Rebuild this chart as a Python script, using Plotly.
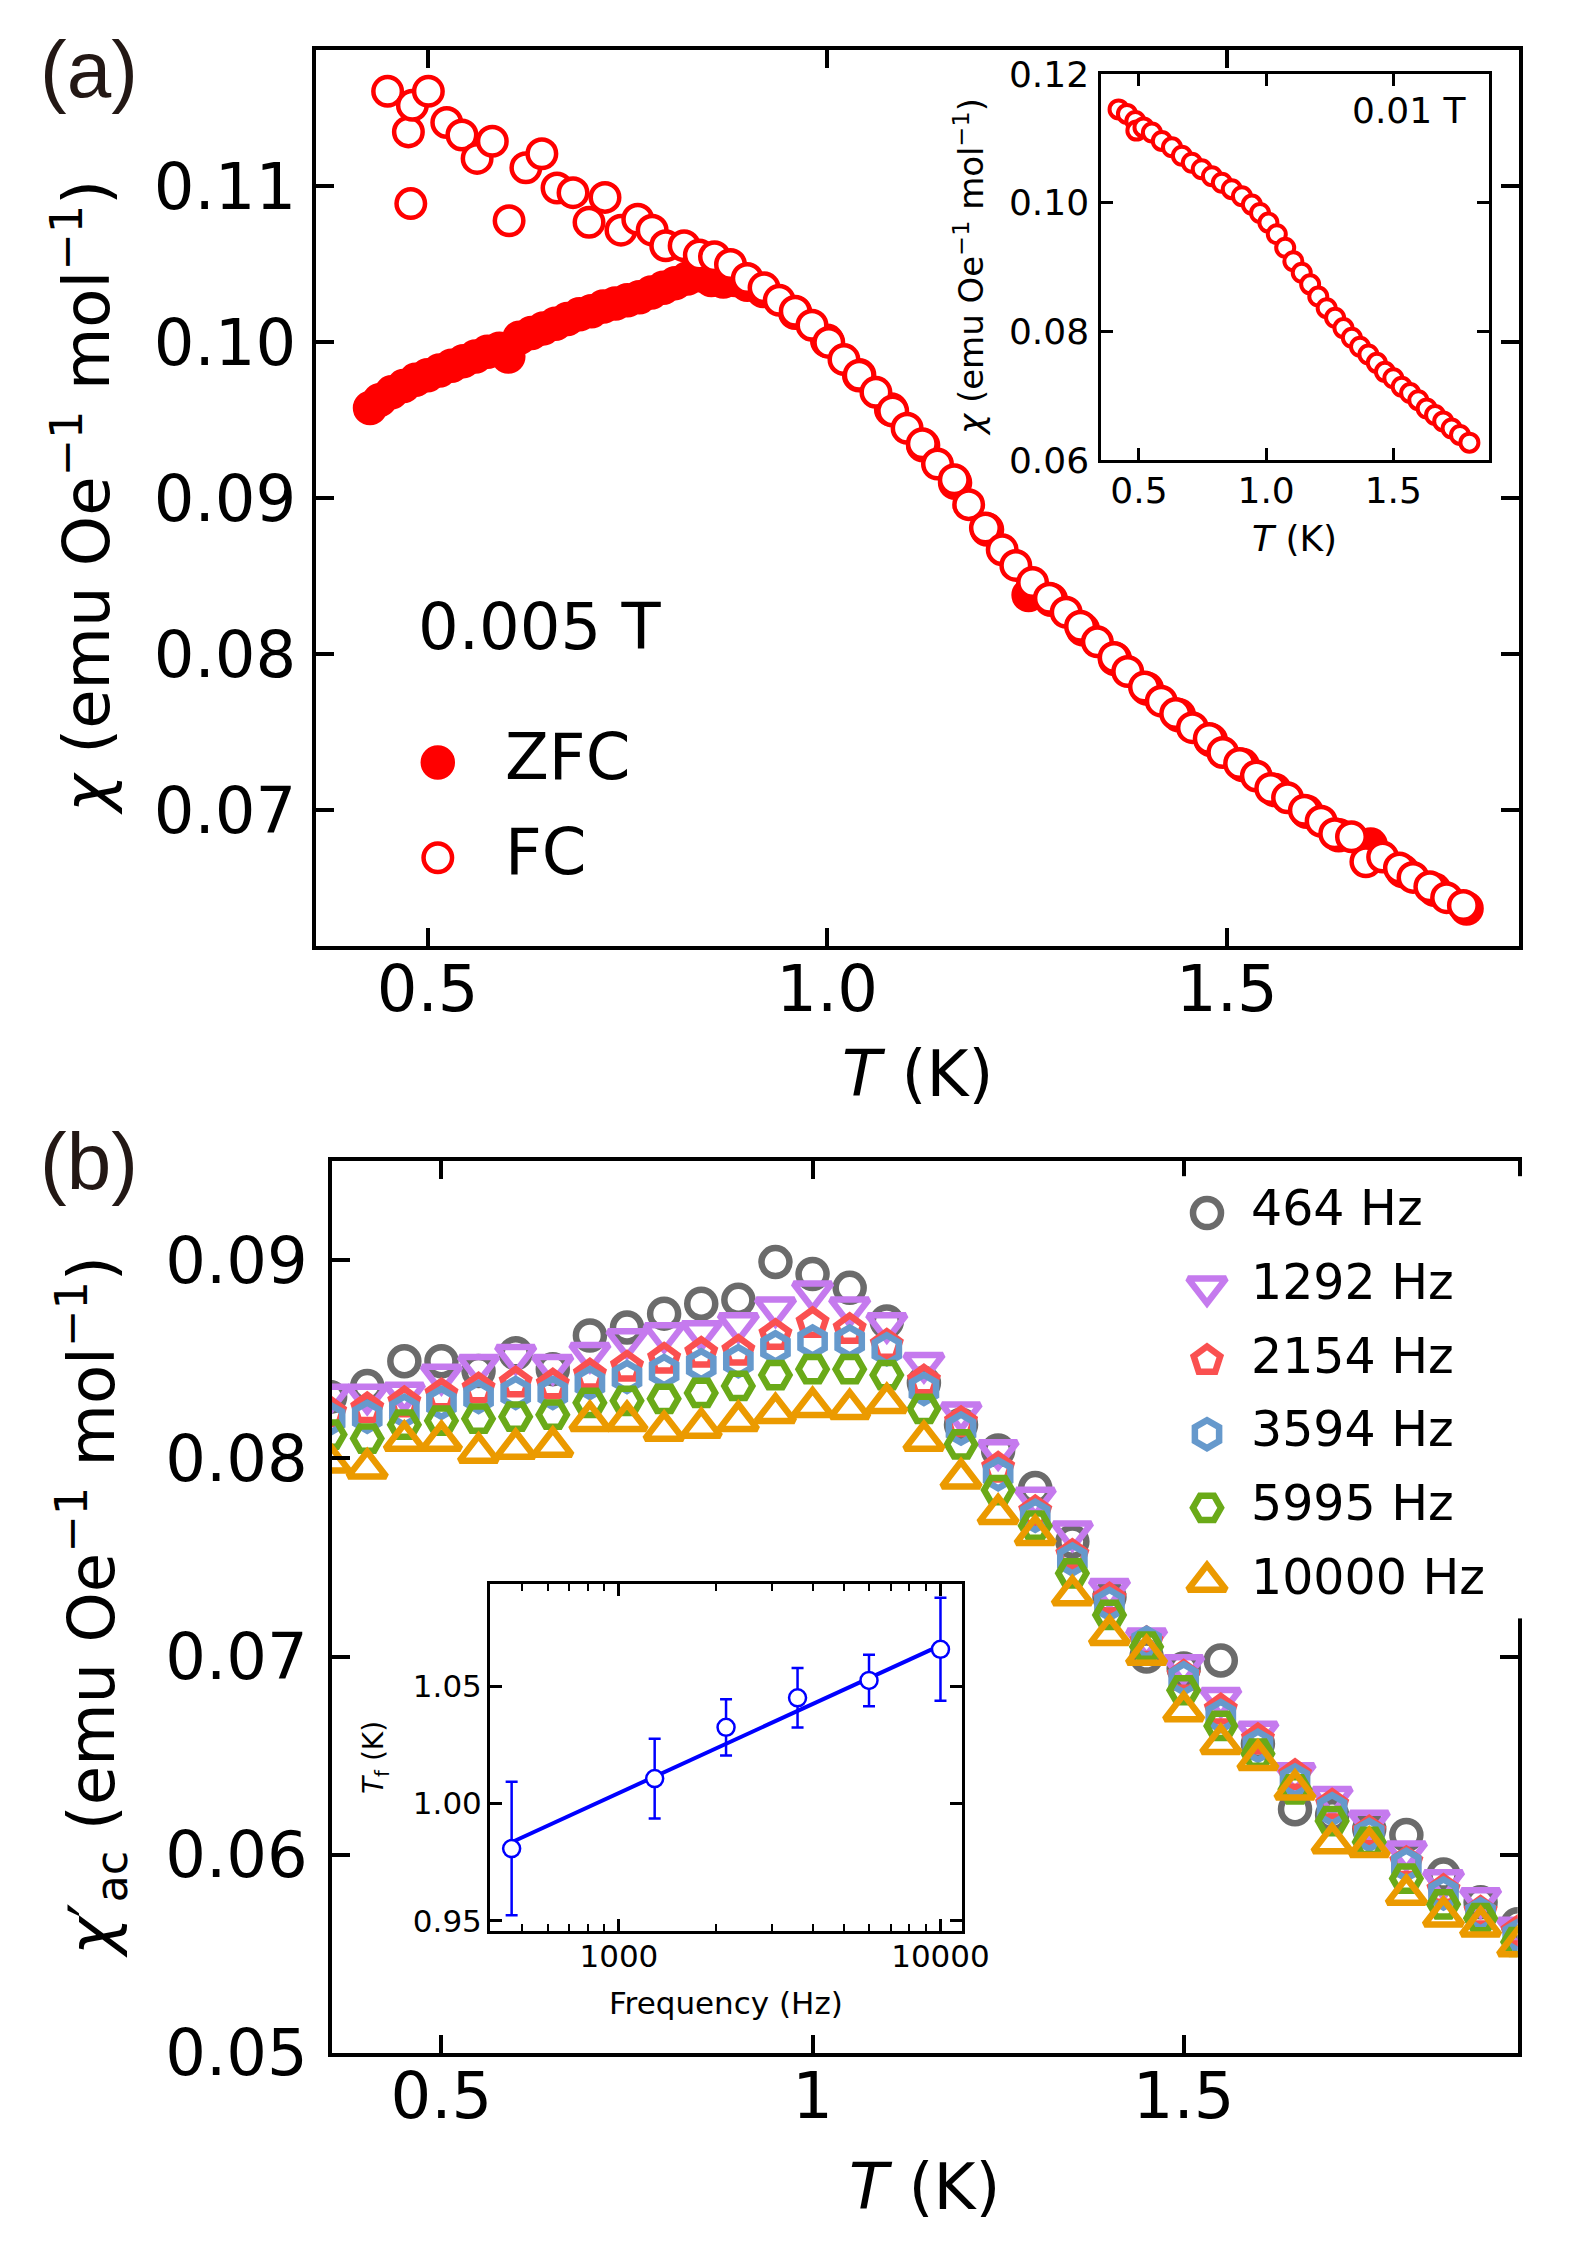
import plotly.graph_objects as go

W, H = 1577, 2253
FONT = "DejaVu Sans"
RED = "#ff0000"

# ---------------- panel (a): dc susceptibility at 0.005 T ----------------
t_fc = [0.450, 0.476, 0.479, 0.481, 0.501, 0.524, 0.543, 0.562, 0.581, 0.602,
        0.623, 0.643, 0.662, 0.682, 0.702, 0.722, 0.742, 0.763, 0.781, 0.798,
        0.821, 0.840, 0.859, 0.879, 0.900, 0.921, 0.940, 0.960, 0.981, 1.002,
        1.021, 1.040, 1.061, 1.082, 1.100, 1.119, 1.138, 1.159, 1.177, 1.198,
        1.219, 1.236, 1.257, 1.278, 1.299, 1.317, 1.338, 1.359, 1.376, 1.397,
        1.418, 1.436, 1.457, 1.478, 1.495, 1.516, 1.537, 1.555, 1.576, 1.597,
        1.618, 1.635, 1.656, 1.674, 1.695, 1.716, 1.733, 1.754, 1.775, 1.796]
chi_fc = [0.1161, 0.1135, 0.1089, 0.1152, 0.1161, 0.1141, 0.1133, 0.1118, 0.1129, 0.1078,
          0.1112, 0.1121, 0.1099, 0.1096, 0.1077, 0.1093, 0.1072, 0.1079, 0.1072, 0.1062,
          0.1062, 0.1056, 0.1055, 0.1050, 0.1041, 0.1035, 0.1027, 0.1020, 0.1011, 0.1000,
          0.0989, 0.0979, 0.0968, 0.0956, 0.0945, 0.0935, 0.0922, 0.0912, 0.0896, 0.0881,
          0.0867, 0.0857, 0.0846, 0.0836, 0.0827, 0.0818, 0.0808, 0.0798, 0.0789, 0.0779,
          0.0770, 0.0762, 0.0753, 0.0746, 0.0737, 0.0730, 0.0722, 0.0714, 0.0708, 0.0700,
          0.0693, 0.0685, 0.0683, 0.0667, 0.0670, 0.0663, 0.0657, 0.0651, 0.0644, 0.0639]

t_zfc = [0.428, 0.440, 0.455, 0.470, 0.485, 0.500, 0.515, 0.530, 0.545, 0.560,
         0.575, 0.590, 0.601, 0.615, 0.630, 0.645, 0.660, 0.675, 0.690, 0.705,
         0.720, 0.735, 0.750, 0.765, 0.780, 0.795, 0.810, 0.825, 0.840, 0.855,
         0.870, 0.885, 0.900, 0.920, 0.960, 1.000, 1.040, 1.080, 1.120, 1.160,
         1.200, 1.252, 1.280, 1.320, 1.360, 1.400, 1.440, 1.480, 1.520, 1.560,
         1.600, 1.640, 1.680, 1.720, 1.760, 1.800]
chi_zfc = [0.0958, 0.0963, 0.0968, 0.0972, 0.0976, 0.0979, 0.0982, 0.0985, 0.0988, 0.0991,
           0.0994, 0.0996, 0.0991, 0.1003, 0.1006, 0.1009, 0.1012, 0.1015, 0.1018, 0.1020,
           0.1023, 0.1025, 0.1027, 0.1029, 0.1032, 0.1035, 0.1038, 0.1041, 0.1043, 0.1040,
           0.1039, 0.1040, 0.1037, 0.1033, 0.1019, 0.1001, 0.0979, 0.0957, 0.0934, 0.0910,
           0.0880, 0.0838, 0.0835, 0.0816, 0.0797, 0.0778, 0.0761, 0.0745, 0.0729, 0.0713,
           0.0699, 0.0684, 0.0678, 0.0661, 0.0649, 0.0637]

# inset (a): 0.01 T
t_01 = [0.420, 0.453, 0.486, 0.490, 0.518, 0.551, 0.590, 0.630, 0.669, 0.708,
        0.747, 0.787, 0.826, 0.865, 0.905, 0.944, 0.976, 1.009, 1.042, 1.075,
        1.107, 1.140, 1.173, 1.205, 1.238, 1.271, 1.304, 1.337, 1.369, 1.402,
        1.435, 1.467, 1.500, 1.533, 1.566, 1.598, 1.631, 1.664, 1.696, 1.729,
        1.762, 1.799]
chi_01 = [0.1145, 0.1138, 0.1127, 0.1112, 0.1117, 0.1109, 0.1096, 0.1086, 0.1073, 0.1062,
          0.1052, 0.1041, 0.1031, 0.1021, 0.1010, 0.0997, 0.0984, 0.0969, 0.0951, 0.0930,
          0.0909, 0.0891, 0.0873, 0.0854, 0.0836, 0.0821, 0.0805, 0.0790, 0.0776, 0.0764,
          0.0751, 0.0737, 0.0727, 0.0714, 0.0704, 0.0693, 0.0680, 0.0670, 0.0660, 0.0649,
          0.0639, 0.0627]

# ---------------- panel (b): ac susceptibility ----------------
t_ac = [0.35, 0.40, 0.45, 0.50, 0.55, 0.60, 0.65, 0.70, 0.75, 0.80, 0.85,
        0.90, 0.95, 1.00, 1.05, 1.10, 1.15, 1.20, 1.25, 1.30, 1.35, 1.40,
        1.45, 1.50, 1.55, 1.60, 1.65, 1.70, 1.75, 1.80, 1.85, 1.90, 1.95]
chi_464 = [83.1, 83.65, 84.9, 84.9, 84.4, 85.3, 84.5, 86.2, 86.6, 87.3, 87.8,
           88.0, 89.9, 89.3, 88.6, 86.9, 83.8, 81.7, 80.4, 78.5, 75.8, 73.0,
           70.0, 69.4, 69.8, 65.6, 62.3, 62.0, 61.3, 61.0, 59.0, 57.6, 56.5]
chi_1292 = [83.2, 83.2, 83.3, 84.2, 84.7, 85.2, 84.7, 85.3, 86.0, 86.3, 86.4,
            86.8, 87.6, 88.4, 87.6, 86.8, 84.8, 82.3, 80.4, 78.0, 76.3, 73.4,
            70.9, 69.55, 67.9, 66.2, 64.1, 62.9, 61.7, 60.15, 58.7, 57.8, 56.3]
chi_2154 = [82.3, 82.5, 82.8, 83.2, 83.5, 83.8, 83.7, 84.2, 84.6, 85.0, 85.3,
            85.4, 86.2, 86.8, 86.5, 85.7, 83.9, 81.8, 79.5, 77.3, 75.1, 72.9,
            70.7, 69.0, 67.3, 65.8, 64.0, 62.5, 61.15, 59.6, 58.2, 57.1, 56.1]
chi_3594 = [82.0, 82.1, 82.4, 82.8, 83.1, 83.3, 83.3, 83.8, 84.1, 84.4, 84.7,
            84.9, 85.6, 85.9, 85.9, 85.5, 83.5, 81.5, 79.2, 77.1, 74.9, 72.65,
            70.7, 68.9, 67.0, 65.5, 63.75, 62.3, 61.0, 59.5, 58.05, 57.0, 55.9]
chi_5995 = [81.2, 81.0, 81.7, 81.9, 82.0, 82.1, 82.2, 82.8, 82.9, 83.0, 83.3,
            83.65, 84.2, 84.5, 84.5, 84.2, 82.5, 80.7, 78.4, 76.6, 74.2, 72.1,
            70.5, 68.3, 66.5, 65.1, 63.3, 61.7, 60.65, 58.8, 57.5, 56.8, 55.6]
chi_10000 = [79.8, 79.5, 80.9, 80.9, 80.3, 80.5, 80.6, 81.9, 81.9, 81.4, 81.55,
             81.9, 82.3, 82.6, 82.5, 82.8, 80.9, 79.0, 77.2, 76.15, 73.1, 71.1,
             70.1, 67.25, 65.6, 64.8, 63.3, 60.6, 60.4, 58.0, 56.9, 56.4, 55.4]

ac_labels = ["464 Hz", "1292 Hz", "2154 Hz", "3594 Hz", "5995 Hz", "10000 Hz"]
ac_series = [chi_464, chi_1292, chi_2154, chi_3594, chi_5995, chi_10000]
ac_colors = ["#6b6b6b", "#c57aee", "#fa5050", "#6699cc", "#6aaa18", "#eb9a00"]
ac_symbols = ["circle-open", "triangle-down-open", "pentagon-open",
              "hexagon-open", "hexagon2-open", "triangle-up-open"]
ac_sizes = [28, 33, 28, 28, 28, 33]

# inset (b): freezing temperature vs frequency
freq = [464, 1292, 2154, 3594, 5995, 10000]
tf = [0.9808, 1.0107, 1.0326, 1.0452, 1.0526, 1.0659]
tf_err = [0.0285, 0.017, 0.012, 0.0127, 0.011, 0.022]
fit_freq = [464, 10000]
fit_tf = [0.9835, 1.0676]


def dom_x(left, right):
    return [left / W, right / W]


def dom_y(top, bottom):
    return [1 - bottom / H, 1 - top / H]


def frame(size, lw, tl, standoff, **kw):
    d = dict(showline=True, linecolor="black", linewidth=lw, mirror="ticks",
             ticks="inside", ticklen=tl, tickwidth=lw, tickcolor="black",
             showgrid=False, zeroline=False, ticklabelstandoff=standoff,
             automargin=False,
             tickfont=dict(family=FONT, size=size, color="black"))
    d.update(kw)
    return d


hidden = dict(visible=False, showgrid=False, zeroline=False, automargin=False)

fig = go.Figure()

# panel (a)
fig.add_trace(go.Scatter(x=t_zfc, y=chi_zfc, mode="markers", xaxis="x", yaxis="y",
                         marker=dict(symbol="circle", size=30, color=RED,
                                     line=dict(color=RED, width=4.5))))
fig.add_trace(go.Scatter(x=t_fc, y=chi_fc, mode="markers", xaxis="x", yaxis="y",
                         marker=dict(symbol="circle", size=28.5, color="white",
                                     line=dict(color=RED, width=4.5))))
fig.add_trace(go.Scatter(x=t_01, y=chi_01, mode="markers", xaxis="x2", yaxis="y2",
                         marker=dict(symbol="circle", size=18, color="white",
                                     line=dict(color=RED, width=4))))

# panel (b)
for vals, c, s, sz in zip(ac_series, ac_colors, ac_symbols, ac_sizes):
    fig.add_trace(go.Scatter(x=t_ac, y=[v / 1000 for v in vals], mode="markers",
                             xaxis="x3", yaxis="y3",
                             marker=dict(symbol=s, size=sz, color=c,
                                         line=dict(color=c, width=6.5))))

fig.add_trace(go.Scatter(x=fit_freq, y=fit_tf, mode="lines", xaxis="x4", yaxis="y4",
                         line=dict(color="blue", width=4)))
fig.add_trace(go.Scatter(x=freq, y=tf, mode="markers", xaxis="x4", yaxis="y4",
                         error_y=dict(type="data", array=tf_err, color="blue",
                                      thickness=2.5, width=6),
                         marker=dict(symbol="circle", size=17, color="white",
                                     line=dict(color="blue", width=2.5))))

# legend keys (a)
fig.add_trace(go.Scatter(x=[0], y=[0], mode="markers", xaxis="x5", yaxis="y5",
                         marker=dict(symbol="circle", size=30, color=RED,
                                     line=dict(color=RED, width=4.5))))
fig.add_trace(go.Scatter(x=[0], y=[1], mode="markers", xaxis="x5", yaxis="y5",
                         marker=dict(symbol="circle", size=28.5, color="white",
                                     line=dict(color=RED, width=4.5))))
fig.add_trace(go.Scatter(x=[1, 1], y=[0, 1], mode="text", text=["ZFC", "FC"],
                         textposition="middle right", cliponaxis=False,
                         xaxis="x5", yaxis="y5",
                         textfont=dict(family=FONT, size=64, color="black")))

# legend keys (b)
for i, (c, s, sz) in enumerate(zip(ac_colors, ac_symbols, ac_sizes)):
    fig.add_trace(go.Scatter(x=[0], y=[i], mode="markers", xaxis="x6", yaxis="y6",
                             cliponaxis=False,
                             marker=dict(symbol=s, size=sz, color=c,
                                         line=dict(color=c, width=6.5))))
fig.add_trace(go.Scatter(x=[1] * len(ac_labels), y=list(range(len(ac_labels))),
                         mode="text", text=ac_labels, textposition="middle right",
                         cliponaxis=False, xaxis="x6", yaxis="y6",
                         textfont=dict(family=FONT, size=49, color="black")))


def note(text, x, y, size, angle=0, xanchor="center", family=FONT, color="black"):
    return dict(text=text, x=x / W, y=1 - y / H, xref="paper", yref="paper",
                showarrow=False, textangle=angle, xanchor=xanchor, yanchor="middle",
                font=dict(family=family, size=size, color=color))


ylab = "(emu Oe<sup>−1</sup> mol<sup>−1</sup>)"
annotations = [
    note("(a)", 89, 70, 80, family="Liberation Sans", color="#231815"),
    note("(b)", 89, 1161, 80, family="Liberation Sans", color="#231815"),
    note("<i>χ</i> " + ylab, 82, 498, 64, angle=-90),
    note("<i>T</i> (K)", 917, 1074, 64),
    note("0.005 T", 416, 627, 64, xanchor="left"),
    note("<i>χ</i> " + ylab, 969, 267, 34, angle=-90),
    note("<i>T</i> (K)", 1294, 538, 36),
    note("0.01 T", 1409, 110, 36),
    note("<i>χ</i>′<sub>ac</sub> " + ylab, 91, 1607, 64, angle=-90),
    note("<i>T</i> (K)", 924, 2187, 64),
    note("<i>T</i><sub>f</sub> (K)", 375, 1758, 28, angle=-90),
    note("Frequency (Hz)", 726, 2003, 31),
]

fig.update_layout(
    width=W, height=H, margin=dict(l=0, r=0, t=0, b=0, autoexpand=False),
    paper_bgcolor="white", plot_bgcolor="white", showlegend=False,
    annotations=annotations,
    xaxis=frame(64, 4, 18, -16, domain=dom_x(316, 1519), anchor="y",
                range=[0.3604, 1.8656], tickvals=[0.5, 1.0, 1.5], tickformat=".1f"),
    yaxis=frame(64, 4, 18, 3, domain=dom_y(50, 946), anchor="x",
                range=[0.0613, 0.11875], tickvals=[0.07, 0.08, 0.09, 0.10, 0.11],
                tickformat=".2f"),
    xaxis2=frame(36, 2.5, 12, -3, domain=dom_x(1101, 1489), anchor="y2",
                 range=[0.351, 1.876], tickvals=[0.5, 1.0, 1.5], tickformat=".1f"),
    yaxis2=frame(36, 2.5, 12, 2, domain=dom_y(74, 460), anchor="x2",
                 range=[0.06, 0.12], tickvals=[0.06, 0.08, 0.10, 0.12],
                 tickformat=".2f"),
    xaxis3=frame(64, 4, 18, -16, domain=dom_x(331.6, 1517.7), anchor="y3",
                 range=[0.352, 1.95], tickvals=[0.5, 1, 1.5],
                 ticktext=["0.5", "1", "1.5"]),
    yaxis3=frame(64, 4, 18, 7, domain=dom_y(1161, 2053), anchor="x3",
                 range=[0.05, 0.095], tickvals=[0.05, 0.06, 0.07, 0.08, 0.09],
                 tickformat=".2f"),
    xaxis4=frame(31, 2.5, 12, -4, domain=dom_x(489.8, 961.7), anchor="y4",
                 type="log", range=[2.5986, 4.066], tickvals=[1000, 10000],
                 ticktext=["1000", "10000"],
                 minor=dict(tickvals=[500, 600, 700, 800, 900, 2000, 3000, 4000,
                                      5000, 6000, 7000, 8000, 9000],
                            ticks="inside", ticklen=7, tickwidth=2,
                            tickcolor="black", showgrid=False)),
    yaxis4=frame(31, 2.5, 12, -1, domain=dom_y(1584, 1931), anchor="x4",
                 range=[0.9456, 1.0938], tickvals=[0.95, 1.00, 1.05],
                 tickformat=".2f"),
    xaxis5=dict(hidden, domain=dom_x(370.6, 773.8), anchor="y5", range=[-1, 5]),
    yaxis5=dict(hidden, domain=dom_y(714.85, 905.45), anchor="x5", range=[1.5, -0.5]),
    xaxis6=dict(hidden, domain=dom_x(1163, 1559), anchor="y6", range=[-1, 8]),
    yaxis6=dict(hidden, domain=dom_y(1176.2, 1618.4), anchor="x6", range=[5.5, -0.5]),
)

# the page's default body margin would shift the whole figure by 8 px
fig.write_html("out.html", config={"displayModeBar": False},
               post_script="document.body.style.margin = '0';")
